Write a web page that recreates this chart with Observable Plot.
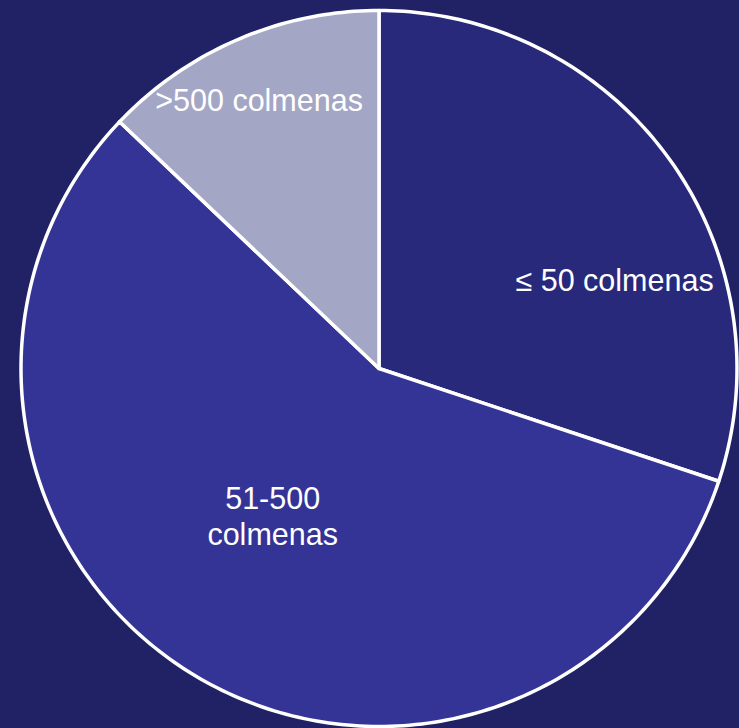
<!DOCTYPE html>
<html>
<head>
<meta charset="utf-8">
<script src="https://cdn.jsdelivr.net/npm/d3@7"></script>
<script src="https://cdn.jsdelivr.net/npm/@observablehq/plot@0.6"></script>
<style>
  html, body { margin: 0; padding: 0; background: #212166; }
  #chart svg { display: block; }
</style>
</head>
<body>
<div id="chart"></div>
<script>
// Data
const categories = ["≤ 50 colmenas", "51-500 colmenas", ">500 colmenas"];
const labels = ["≤ 50 colmenas", "51-500\ncolmenas", ">500 colmenas"];
const values = [30.1, 57.0, 12.9];
const colors = ["#28297b", "#343496", "#a4a6c5"];

// Label anchor positions in unit-circle coords (layout only)
const labelX = [0.658, -0.297, -0.335];
const labelY = [0.249, -0.411, 0.752];

// Build slice polygons (clockwise from 12 o'clock)
const total = d3.sum(values);
const pts = [];
let start = 0;
categories.forEach((c, i) => {
  const a0 = start / total * 2 * Math.PI;
  const a1 = (start + values[i]) / total * 2 * Math.PI;
  pts.push({cat: c, x: 0, y: 0});
  const n = Math.max(2, Math.ceil((a1 - a0) / (Math.PI / 180)));
  for (let k = 0; k <= n; k++) {
    const a = a0 + (a1 - a0) * k / n;
    pts.push({cat: c, x: Math.sin(a), y: Math.cos(a)});
  }
  pts.push({cat: c, x: 0, y: 0});
  start += values[i];
});

const labelData = categories.map((c, i) => ({text: labels[i], x: labelX[i], y: labelY[i]}));

const chart = Plot.plot({
  width: 739,
  height: 728,
  marginLeft: 20.5,
  marginRight: 2.5,
  marginTop: 10,
  marginBottom: 2,
  x: {domain: [-1, 1], axis: null},
  y: {domain: [-1, 1], axis: null},
  color: {domain: categories, range: colors},
  style: {background: "#212166", fontFamily: "'Liberation Sans', Arial, sans-serif"},
  marks: [
    Plot.line(pts, {x: "x", y: "y", z: "cat", fill: "cat", stroke: "white", strokeWidth: 3.5, strokeLinejoin: "round", curve: "linear"}),
    Plot.text(labelData, {x: "x", y: "y", text: "text", fill: "white", fontSize: 30.5, lineHeight: 1.17, textAnchor: "middle"})
  ]
});
document.getElementById("chart").appendChild(chart);
</script>
</body>
</html>
